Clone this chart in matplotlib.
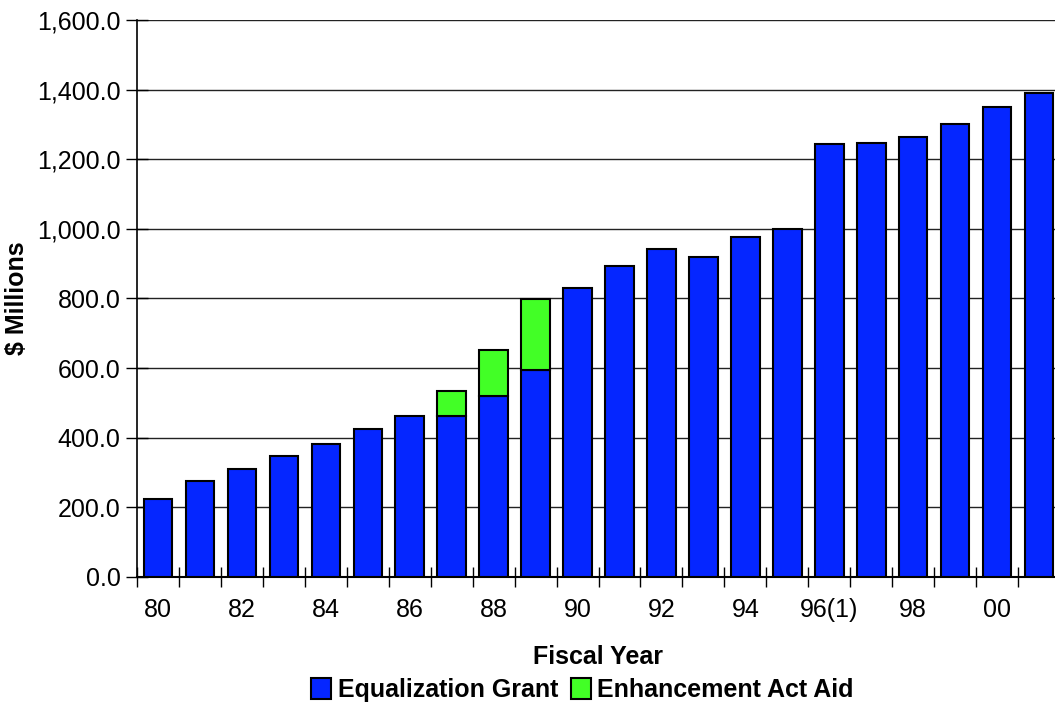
"""
Equalization grant and enhancement act aid by fiscal year
"""
import matplotlib.pyplot as plt
from matplotlib.patches import Patch
import numpy as np

plt.rcParams['font.family'] = ['Liberation Sans', 'DejaVu Sans']

years = ['80', '81', '82', '83', '84', '85', '86', '87', '88', '89', '90',
         '91', '92', '93', '94', '95', '96(1)', '97', '98', '99', '00', '01']
equalization = [223, 275, 310, 348, 381, 424, 463, 463, 520, 595, 829,
                894, 943, 920, 976, 1000, 1245, 1248, 1264, 1301, 1351, 1390]
enhancement = [0, 0, 0, 0, 0, 0, 0, 72, 132, 204, 0,
               0, 0, 0, 0, 0, 0, 0, 0, 0, 0, 0]

blue = '#0526FF'
green = '#42FF26'

fig = plt.figure(figsize=(10.55, 7.04), dpi=100)
ax = fig.add_axes([0.1299, 0.1804, 0.8701, 0.7912])

x = np.arange(len(years))
ax.bar(x, equalization, width=0.68, color=blue, edgecolor='black',
       linewidth=1.5, zorder=3)
green_bars = ax.bar(x, enhancement, width=0.68, bottom=equalization,
                    color=green, edgecolor='black', linewidth=1.5, zorder=3)
# hide zero-height green outlines on bars without enhancement aid
for patch, val in zip(green_bars, enhancement):
    if val == 0:
        patch.set_visible(False)

ax.set_ylim(0, 1600)
ax.set_xlim(-0.5, 21.38)
ax.set_yticks(np.arange(0, 1601, 200))
ax.set_yticklabels([f"{v:,.1f}" for v in np.arange(0, 1601, 200)])
ax.yaxis.grid(True, color='#222222', linewidth=1.0, zorder=0)

ax.set_xticks(x[::2])
ax.set_xticklabels(years[::2])
ax.set_xticks(np.arange(-0.5, 21.5, 1), minor=True)
ax.tick_params(axis='x', which='major', length=0, pad=15, labelsize=18)
ax.tick_params(axis='x', which='minor', direction='inout', length=15, width=1)
ax.tick_params(axis='y', direction='inout', length=16, width=1, labelsize=18, pad=4)

for side in ['top', 'right']:
    ax.spines[side].set_visible(False)
ax.spines['left'].set_linewidth(1.2)
ax.spines['bottom'].set_linewidth(1.5)

ax.set_ylabel('$ Millions', fontsize=18, fontweight='bold')
ax.yaxis.set_label_coords(-0.118, 0.5)
ax.set_xlabel('Fiscal Year', fontsize=18, fontweight='bold')
ax.xaxis.set_label_coords(0.502, -0.122)

handles = [Patch(facecolor=blue, edgecolor='black', linewidth=1.5),
           Patch(facecolor=green, edgecolor='black', linewidth=1.5)]
fig.legend(handles, ['Equalization Grant', 'Enhancement Act Aid'],
           loc='center', bbox_to_anchor=(0.552, 0.02), ncol=2, frameon=False,
           prop={'weight': 'bold', 'size': 18}, handlelength=0.8,
           handleheight=0.9, handletextpad=0.25, columnspacing=0.5)

plt.savefig('out.png', dpi=100)
